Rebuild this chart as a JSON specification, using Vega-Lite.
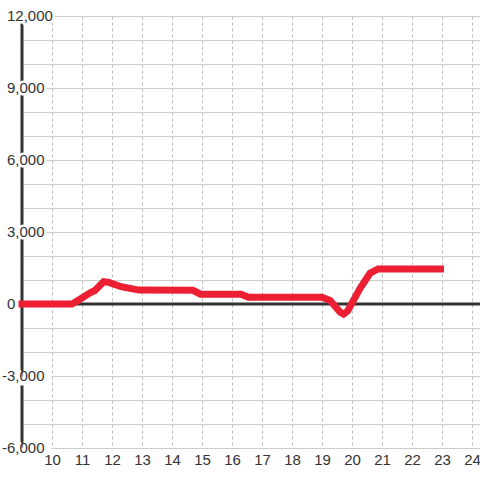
{
  "$schema": "https://vega.github.io/schema/vega-lite/v6.json",
  "autosize": "none",
  "width": 458,
  "height": 432,
  "padding": {"left": 22, "top": 16, "right": 0, "bottom": 32},
  "background": "white",
  "config": {"view": {"stroke": null}},
  "datasets": {
    "series": [
      {"hour": 9.0, "value": 0},
      {"hour": 10.67, "value": 0},
      {"hour": 10.93, "value": 200},
      {"hour": 11.27, "value": 470},
      {"hour": 11.43, "value": 560},
      {"hour": 11.72, "value": 930},
      {"hour": 11.9, "value": 900},
      {"hour": 12.3, "value": 720},
      {"hour": 12.9, "value": 580},
      {"hour": 14.7, "value": 570},
      {"hour": 14.95, "value": 410},
      {"hour": 16.3, "value": 410},
      {"hour": 16.55, "value": 280},
      {"hour": 19.0, "value": 280},
      {"hour": 19.27, "value": 150},
      {"hour": 19.6, "value": -330},
      {"hour": 19.72, "value": -420},
      {"hour": 19.85, "value": -300},
      {"hour": 20.27, "value": 650},
      {"hour": 20.6, "value": 1280},
      {"hour": 20.87, "value": 1460},
      {"hour": 22.95, "value": 1460}
    ],
    "labels": [
      {"v": 12000, "label": "12,000"},
      {"v": 9000, "label": "9,000"},
      {"v": 6000, "label": "6,000"},
      {"v": 3000, "label": "3,000"},
      {"v": 0, "label": "0"},
      {"v": -3000, "label": "-3,000"},
      {"v": -6000, "label": "-6,000"}
    ],
    "zero": [{"v": 0, "h": 9}]
  },
  "encoding": {
    "x": {
      "type": "quantitative",
      "scale": {"domain": [9, 24.2667], "nice": false, "zero": false},
      "axis": {
        "title": null,
        "values": [10, 11, 12, 13, 14, 15, 16, 17, 18, 19, 20, 21, 22, 23, 24],
        "grid": true,
        "gridDash": [3, 3],
        "gridColor": "#bbbbbb",
        "gridWidth": 1,
        "domain": false,
        "ticks": false,
        "tickSize": 0,
        "labelPadding": 4,
        "labelFont": "Liberation Sans",
        "labelFontSize": 15,
        "labelColor": "#333333",
        "labelFlush": false,
        "labelOverlap": false
      }
    },
    "y": {
      "type": "quantitative",
      "scale": {"domain": [-6000, 12000], "nice": false, "zero": false},
      "axis": {
        "title": null,
        "values": [-6000, -5000, -4000, -3000, -2000, -1000, 0, 1000, 2000, 3000, 4000, 5000, 6000, 7000, 8000, 9000, 10000, 11000, 12000],
        "grid": true,
        "gridColor": "#cccccc",
        "gridWidth": 1,
        "domain": false,
        "ticks": false,
        "labels": false
      }
    }
  },
  "layer": [
    {
      "data": {"name": "zero"},
      "mark": {"type": "rule", "color": "#333333", "strokeWidth": 3},
      "encoding": {"y": {"field": "v", "type": "quantitative"}, "x": null}
    },
    {
      "data": {"name": "zero"},
      "mark": {"type": "rule", "color": "#333333", "strokeWidth": 3},
      "encoding": {"x": {"field": "h", "type": "quantitative"}, "y": null}
    },
    {
      "data": {"name": "labels"},
      "mark": {"type": "text", "align": "left", "baseline": "middle", "dx": -15, "font": "Liberation Sans", "fontSize": 15, "fill": "white", "stroke": "white", "strokeWidth": 5, "strokeJoin": "round"},
      "encoding": {
        "x": {"datum": 9, "type": "quantitative"},
        "y": {"field": "v", "type": "quantitative"},
        "text": {"field": "label"}
      }
    },
    {
      "data": {"name": "labels"},
      "transform": [{"filter": "datum.v >= 0"}],
      "mark": {"type": "text", "align": "left", "baseline": "middle", "dx": -15, "font": "Liberation Sans", "fontSize": 15, "fill": "#333333"},
      "encoding": {
        "x": {"datum": 9, "type": "quantitative"},
        "y": {"field": "v", "type": "quantitative"},
        "text": {"field": "label"}
      }
    },
    {
      "data": {"name": "labels"},
      "transform": [{"filter": "datum.v < 0"}],
      "mark": {"type": "text", "align": "left", "baseline": "middle", "dx": -20, "font": "Liberation Sans", "fontSize": 15, "fill": "#333333"},
      "encoding": {
        "x": {"datum": 9, "type": "quantitative"},
        "y": {"field": "v", "type": "quantitative"},
        "text": {"field": "label"}
      }
    },
    {
      "data": {"name": "series"},
      "mark": {"type": "line", "color": "#ec1f33", "strokeWidth": 7, "strokeCap": "square", "clip": false},
      "encoding": {
        "x": {"field": "hour", "type": "quantitative"},
        "y": {"field": "value", "type": "quantitative"}
      }
    }
  ]
}
